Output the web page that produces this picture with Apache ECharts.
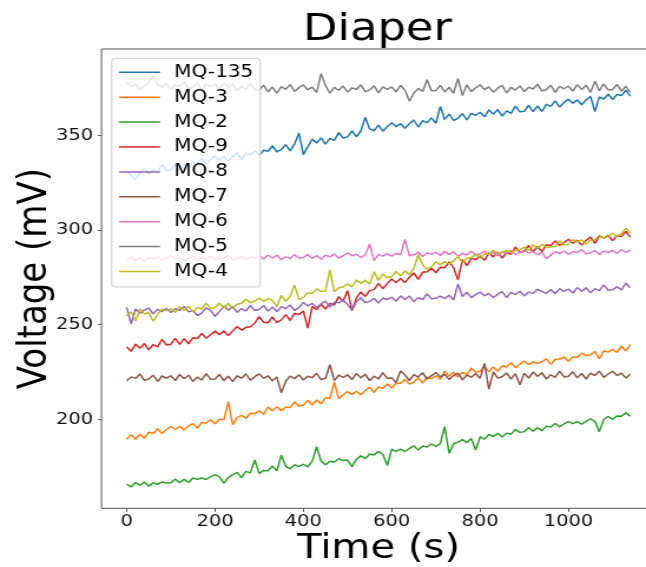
<!DOCTYPE html>
<html>
<head>
<meta charset="utf-8">
<script src="https://cdn.jsdelivr.net/npm/echarts@6/dist/echarts.min.js"></script>
<style>
  html, body { margin: 0; padding: 0; background: #fff; overflow: hidden; }
  /* the figure is drawn at 548px wide and widened to the 646px page */
  #chart { width: 548px; height: 567px; transform: scaleX(1.178832); transform-origin: 0 0; }
</style>
</head>
<body>
<div id="chart"></div>
<script>
// Sensor readings of the diaper run, one sample every 10 s from 0 s to 1140 s.
const sampleStep = 10;

const seriesNames = ['MQ-135', 'MQ-3', 'MQ-2', 'MQ-9', 'MQ-8', 'MQ-7', 'MQ-6', 'MQ-5', 'MQ-4'];
const seriesColors = ['#1f77b4', '#ff7f0e', '#2ca02c', '#d62728', '#9467bd', '#8c564b', '#e377c2', '#7f7f7f', '#bcbd22'];

const mq135 = [
  331.2, 328.8, 326.6, 330.2, 332.6, 329.2, 332.0, 330.6, 334.5, 331.4,
  331.8, 334.9, 331.8, 334.8, 332.1, 335.9, 334.9, 337.9, 334.7, 337.2,
  339.1, 337.0, 338.8, 336.3, 338.9, 340.8, 337.2, 340.6, 339.5, 342.1,
  339.4, 342.1, 341.6, 344.5, 341.3, 342.5, 345.1, 341.8, 345.4, 351.2,
  339.8, 344.0, 348.0, 345.9, 348.6, 345.4, 348.4, 347.3, 351.4, 348.6,
  349.2, 352.4, 349.2, 352.3, 359.5, 353.4, 352.4, 355.4, 352.2, 354.7,
  356.6, 354.5, 356.2, 353.7, 356.2, 358.1, 354.4, 357.8, 356.6, 359.2,
  356.4, 365.3, 358.4, 361.2, 357.9, 359.0, 361.5, 358.1, 361.6, 360.6,
  362.2, 359.8, 363.5, 361.2, 363.6, 360.2, 362.9, 361.6, 365.4, 362.4,
  362.7, 365.8, 362.5, 365.5, 362.6, 366.4, 365.3, 368.2, 364.9, 367.3,
  369.1, 367.0, 368.7, 366.2, 368.7, 370.6, 362.6, 370.3, 369.1, 371.7,
  368.9, 371.6, 371.0, 373.9, 370.7
];

const mq3 = [
  189.4, 191.9, 189.5, 192.1, 190.0, 193.2, 192.5, 195.0, 192.5, 194.6,
  196.2, 194.6, 196.2, 194.4, 196.5, 197.7, 195.4, 198.3, 198.1, 199.8,
  197.7, 200.1, 199.7, 209.3, 197.2, 200.9, 202.1, 200.6, 203.2, 203.0,
  204.5, 202.7, 206.5, 204.4, 206.6, 204.6, 206.5, 206.2, 209.1, 206.9,
  207.4, 210.0, 207.6, 210.2, 208.2, 211.4, 211.0, 219.7, 210.9, 213.0,
  214.7, 213.2, 214.8, 213.0, 215.2, 216.9, 214.2, 217.1, 216.4, 218.7,
  216.7, 219.0, 219.0, 221.0, 218.6, 219.6, 221.8, 219.2, 222.2, 221.5,
  223.0, 221.2, 225.4, 222.7, 224.9, 222.3, 224.7, 223.8, 227.1, 224.9,
  225.4, 227.8, 225.2, 227.6, 225.4, 228.4, 227.6, 229.9, 227.3, 229.2,
  230.7, 229.0, 230.4, 229.4, 230.4, 231.9, 229.0, 231.7, 231.8, 232.9,
  230.7, 233.0, 232.6, 235.0, 233.6, 234.1, 235.8, 232.0, 236.2, 235.5,
  237.0, 235.3, 238.6, 236.1, 239.5
];

const mq2 = [
  165.7, 164.3, 166.6, 165.2, 166.8, 164.7, 166.4, 165.7, 167.0, 166.3,
  166.5, 168.4, 166.5, 168.3, 166.6, 169.0, 168.3, 169.1, 168.2, 169.7,
  170.8, 169.6, 166.3, 169.2, 170.8, 172.0, 169.2, 172.5, 171.7, 178.5,
  171.3, 173.0, 172.8, 175.3, 172.8, 181.0, 175.2, 173.8, 176.0, 175.0,
  176.2, 174.9, 177.9, 185.5, 177.9, 176.0, 177.8, 177.4, 179.2, 178.2,
  178.5, 175.0, 178.8, 180.7, 179.2, 181.7, 181.2, 183.1, 181.4, 175.6,
  184.3, 183.1, 184.3, 183.0, 184.6, 186.0, 183.8, 185.9, 185.4, 187.1,
  185.5, 187.3, 196.2, 182.0, 187.1, 188.0, 189.3, 187.7, 189.9, 183.8,
  190.7, 189.5, 192.0, 190.8, 192.6, 190.7, 192.6, 192.1, 194.6, 193.1,
  193.5, 195.5, 193.7, 195.6, 194.0, 196.4, 195.9, 197.8, 196.0, 197.6,
  198.8, 197.7, 198.8, 197.4, 198.9, 200.3, 198.8, 193.5, 199.9, 201.5,
  200.0, 201.8, 201.6, 203.4, 201.7
];

const mq9 = [
  238.2, 235.9, 239.7, 237.5, 240.0, 236.7, 239.5, 238.3, 242.2, 239.3,
  239.7, 242.8, 239.6, 242.6, 239.9, 243.1, 242.7, 245.3, 242.8, 244.7,
  246.6, 244.7, 246.6, 244.2, 246.7, 249.0, 247.1, 248.6, 248.9, 250.9,
  254.2, 251.3, 251.0, 254.1, 251.1, 252.5, 255.3, 252.2, 256.0, 255.3,
  257.2, 248.2, 259.6, 257.9, 260.8, 258.3, 261.2, 260.4, 264.8, 262.3,
  268.0, 257.4, 264.0, 267.3, 264.9, 268.1, 268.5, 271.8, 269.0, 271.8,
  274.1, 272.3, 274.4, 272.2, 275.1, 277.3, 273.9, 277.7, 277.9, 279.8,
  277.4, 280.3, 280.0, 283.1, 280.1, 273.6, 284.3, 281.2, 285.0, 284.3,
  286.2, 284.0, 287.9, 285.8, 288.2, 285.2, 288.1, 287.2, 291.0, 288.2,
  288.7, 291.8, 288.5, 291.3, 288.6, 292.2, 291.8, 294.2, 291.9, 293.3,
  295.1, 293.0, 294.6, 292.0, 294.5, 296.3, 292.9, 296.9, 295.7, 297.2,
  294.4, 297.1, 296.5, 299.2, 296.2
];

const mq8 = [
  259.2, 250.5, 258.3, 256.0, 257.7, 258.9, 255.7, 258.1, 256.9, 258.7,
  256.5, 258.4, 257.6, 259.6, 256.8, 257.4, 254.8, 256.2, 258.8, 257.7,
  254.3, 257.0, 259.8, 257.7, 259.5, 256.5, 258.5, 257.2, 260.1, 257.5,
  258.0, 260.1, 257.2, 259.3, 256.8, 259.5, 258.4, 260.4, 257.5, 259.1,
  261.7, 259.9, 261.2, 259.1, 261.0, 262.4, 259.3, 261.9, 261.5, 263.0,
  260.7, 257.7, 262.1, 264.2, 261.6, 262.3, 263.8, 261.4, 264.1, 263.3,
  264.5, 262.4, 265.2, 263.3, 265.1, 262.2, 264.2, 263.3, 266.2, 263.7,
  263.9, 265.1, 263.8, 265.5, 263.0, 271.5, 264.9, 267.1, 264.3, 265.9,
  267.2, 265.3, 266.5, 264.3, 266.1, 267.4, 264.3, 267.1, 265.9, 267.6,
  265.2, 267.2, 266.5, 268.7, 267.5, 266.5, 268.6, 266.3, 269.0, 267.6,
  268.8, 266.7, 269.6, 267.6, 269.5, 266.8, 269.0, 268.0, 271.0, 268.2,
  268.4, 270.1, 268.3, 271.9, 269.5
];

const mq7 = [
  220.4, 222.4, 221.6, 223.9, 220.6, 221.3, 223.3, 220.0, 222.9, 221.7,
  223.0, 220.5, 223.7, 221.4, 223.3, 220.0, 222.3, 220.8, 224.1, 221.1,
  221.3, 223.7, 220.5, 222.8, 219.9, 223.0, 221.7, 224.0, 220.7, 222.5,
  224.0, 221.7, 223.0, 220.4, 222.4, 214.0, 220.1, 222.8, 221.5, 223.5,
  220.8, 222.8, 222.0, 224.3, 221.0, 221.7, 228.8, 220.4, 223.3, 222.1,
  223.5, 221.0, 224.2, 221.9, 223.8, 220.5, 222.8, 221.3, 224.6, 221.6,
  221.9, 219.4, 225.6, 223.4, 220.5, 223.6, 222.3, 224.6, 221.3, 223.1,
  224.7, 222.4, 223.7, 221.1, 223.1, 224.4, 220.8, 223.5, 222.2, 224.2,
  221.6, 229.7, 216.0, 225.1, 221.8, 222.5, 224.5, 221.2, 224.1, 218.2,
  224.3, 221.8, 225.0, 222.7, 224.6, 221.3, 223.6, 222.1, 225.4, 222.4,
  222.7, 225.1, 221.9, 224.2, 221.3, 224.4, 223.1, 225.4, 222.1, 223.9,
  225.4, 223.1, 224.4, 221.8, 223.8
];

const mq6 = [
  284.3, 285.9, 283.8, 285.3, 283.4, 285.5, 284.6, 286.1, 284.0, 285.2,
  286.3, 284.8, 285.6, 283.9, 285.2, 286.1, 283.7, 285.5, 284.6, 285.9,
  284.2, 285.6, 285.1, 286.6, 284.4, 284.9, 286.2, 284.0, 285.9, 285.1,
  286.3, 284.7, 286.8, 285.2, 286.6, 284.3, 285.8, 284.9, 287.0, 285.1,
  285.5, 287.1, 285.0, 286.5, 284.6, 286.7, 285.8, 287.3, 285.2, 286.4,
  287.9, 286.4, 287.2, 285.5, 286.8, 292.6, 283.8, 287.1, 286.2, 287.5,
  286.2, 287.6, 287.1, 295.0, 286.4, 286.9, 288.2, 286.0, 287.9, 287.1,
  288.2, 286.6, 288.7, 287.1, 288.5, 286.2, 287.7, 286.8, 288.9, 287.0,
  287.3, 288.9, 286.8, 288.3, 286.4, 288.5, 287.6, 289.1, 287.0, 288.2,
  289.3, 287.8, 288.6, 286.9, 288.2, 284.9, 286.7, 288.5, 287.6, 288.9,
  287.2, 288.6, 288.1, 289.6, 287.4, 287.9, 289.2, 287.0, 288.9, 288.1,
  289.2, 287.6, 289.7, 288.1, 289.5
];

const mq5 = [
  378.1, 375.6, 377.0, 374.1, 376.3, 377.8, 381.6, 376.8, 375.3, 377.5,
  374.4, 376.7, 375.8, 378.3, 374.7, 375.5, 377.7, 374.0, 377.2, 375.9,
  377.0, 374.2, 377.7, 375.1, 377.3, 373.6, 375.9, 374.4, 377.5, 374.2,
  373.8, 376.5, 372.9, 375.5, 372.3, 375.7, 374.3, 376.8, 373.2, 375.2,
  376.6, 374.1, 375.5, 372.6, 382.6, 376.3, 372.3, 375.3, 373.8, 376.0,
  372.8, 375.1, 374.2, 376.7, 373.1, 373.9, 376.1, 372.4, 375.6, 374.3,
  375.6, 372.9, 376.4, 373.8, 368.0, 372.3, 374.8, 373.2, 379.4, 373.5,
  373.7, 376.4, 372.8, 375.4, 372.2, 380.1, 371.0, 376.7, 373.1, 375.1,
  376.7, 374.2, 375.6, 372.7, 374.9, 376.4, 372.4, 375.4, 373.9, 376.1,
  373.1, 375.4, 374.5, 377.0, 373.4, 374.2, 376.4, 372.7, 375.9, 374.6,
  376.0, 373.3, 376.8, 374.2, 376.4, 372.7, 378.6, 373.6, 377.2, 373.9,
  374.2, 376.9, 373.3, 375.9, 372.7
];

const mq4 = [
  254.7, 256.8, 252.1, 258.3, 255.6, 256.4, 251.8, 255.5, 258.2, 257.3,
  258.5, 256.5, 259.5, 257.6, 259.6, 256.9, 259.1, 258.2, 261.3, 258.6,
  258.9, 261.3, 258.7, 261.3, 258.6, 260.9, 261.2, 263.5, 261.6, 262.5,
  264.0, 262.3, 263.8, 262.8, 259.6, 265.4, 262.3, 265.0, 270.9, 263.2,
  264.4, 266.8, 266.5, 268.9, 267.6, 267.7, 278.9, 267.4, 269.5, 269.9,
  271.5, 269.9, 273.7, 271.7, 273.5, 271.5, 278.0, 273.4, 276.8, 274.8,
  275.4, 278.1, 275.7, 278.4, 276.4, 279.7, 286.9, 281.6, 279.3, 280.5,
  283.2, 281.7, 283.3, 282.0, 283.7, 285.9, 282.7, 285.1, 285.4, 287.2,
  285.2, 287.5, 287.0, 289.3, 287.4, 288.4, 289.2, 287.9, 289.3, 289.6,
  291.0, 289.1, 292.2, 290.4, 292.5, 290.8, 291.1, 291.1, 294.3, 292.0,
  292.4, 294.9, 293.7, 294.8, 292.6, 294.7, 294.9, 297.3, 295.7, 296.7,
  298.2, 296.6, 298.1, 301.0, 298.4
];

const seriesValues = [mq135, mq3, mq2, mq9, mq8, mq7, mq6, mq5, mq4];

// axis ticks
const xTicks = [0, 200, 400, 600, 800, 1000];
const yTicks = [200, 250, 300, 350];

const FONT = 'DejaVu Sans';
const chart = echarts.init(document.getElementById('chart'), null, { renderer: 'canvas' });

chart.setOption({
  animation: false,
  backgroundColor: '#ffffff',
  title: {
    text: 'Diaper',
    left: 320.2,
    top: 11,
    padding: 0,
    textAlign: 'center',
    textStyle: { fontFamily: FONT, fontSize: 38, fontWeight: 'normal', color: '#000' }
  },
  legend: {
    orient: 'vertical',
    left: 94.75,
    top: 58.3,
    data: seriesNames,
    icon: 'rect',
    itemWidth: 34.8,
    itemHeight: 1.5,
    itemGap: 7.9,
    padding: [5.5, 6, 7, 6.2],
    backgroundColor: 'rgba(255,255,255,0.8)',
    borderColor: '#cccccc',
    borderWidth: 1,
    borderRadius: 3,
    selectedMode: false,
    textStyle: { fontFamily: FONT, fontSize: 17, color: '#000', lineHeight: 17, padding: [0, 0, 0, 7] }
  },
  grid: {
    left: 86.1,
    top: 49,
    width: 469.9,
    height: 459.3,
    containLabel: false,
    outerBoundsMode: 'none',
    show: true,
    borderColor: '#555',
    borderWidth: 1,
    backgroundColor: 'transparent'
  },
  xAxis: {
    type: 'value',
    min: -57,
    max: 1197,
    name: 'Time (s)',
    nameLocation: 'middle',
    nameGap: 24,
    nameMoveOverlap: false,
    nameTextStyle: { fontFamily: FONT, fontSize: 34, color: '#000' },
    axisLine: { show: false, onZero: false },
    splitLine: { show: false },
    axisTick: { show: true, length: 3.5, customValues: xTicks, lineStyle: { color: '#555' } },
    axisLabel: {
      customValues: xTicks, margin: 5, fontFamily: FONT, fontSize: 16.5, color: '#111',
      formatter: (v) => String(v)
    }
  },
  yAxis: {
    type: 'value',
    min: 153.0,
    max: 395.6,
    name: 'Voltage (mV)',
    nameLocation: 'middle',
    nameGap: 38.7,
    nameMoveOverlap: false,
    nameTextStyle: { fontFamily: FONT, fontSize: 34, color: '#000' },
    axisLine: { show: false, onZero: false },
    splitLine: { show: false },
    axisTick: { show: true, length: 3, customValues: yTicks, lineStyle: { color: '#555' } },
    axisLabel: {
      customValues: yTicks, margin: 7, fontFamily: FONT, fontSize: 16.5, color: '#111',
      formatter: (v) => String(v)
    }
  },
  series: seriesNames.map((name, k) => ({
    name: name,
    type: 'line',
    symbol: 'none',
    color: seriesColors[k],
    lineStyle: { width: 1.5, color: seriesColors[k] },
    data: seriesValues[k].map((v, i) => [i * sampleStep, v])
  }))
});
</script>
</body>
</html>
